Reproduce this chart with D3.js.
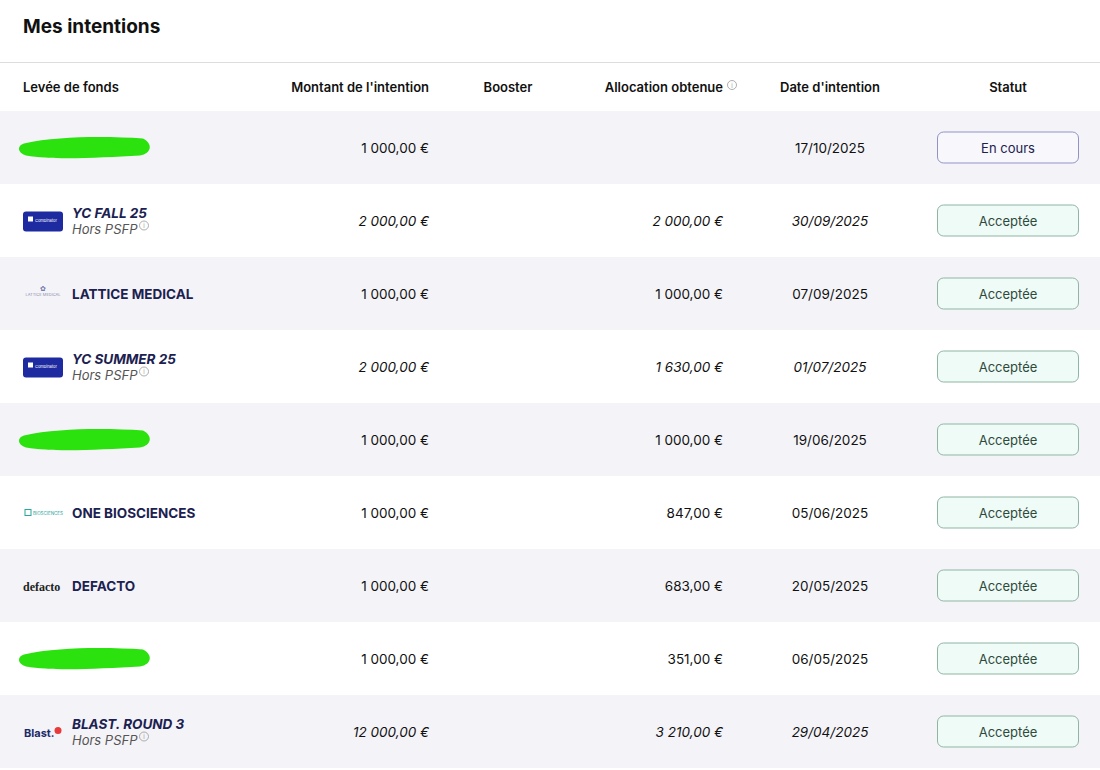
<!DOCTYPE html>
<html><head><meta charset="utf-8">
<script src="https://cdn.jsdelivr.net/npm/d3@7"></script>
<style>body{margin:0;background:#fff;font-family:Inter,"Noto Sans",sans-serif}</style>
</head><body><svg id="c" width="1100" height="770"></svg>
<script>
const names=["","YC FALL 25","LATTICE MEDICAL","YC SUMMER 25","","ONE BIOSCIENCES","DEFACTO","","BLAST. ROUND 3"];
const logos=["redact","yc","lattice","yc","redact","one","defacto","redact","blast"];
const horsPSFP=[false,true,false,true,false,false,false,false,true];
const montants=[1000,2000,1000,2000,1000,1000,1000,1000,12000];
const allocations=[null,2000,1000,1630,1000,847,683,351,3210];
const dates=["17/10/2025","30/09/2025","07/09/2025","01/07/2025","19/06/2025","05/06/2025","20/05/2025","06/05/2025","29/04/2025"];
const statuts=["En cours","Acceptée","Acceptée","Acceptée","Acceptée","Acceptée","Acceptée","Acceptée","Acceptée"];
const headers=["Levée de fonds","Montant de l'intention","Booster","Allocation obtenue","Date d'intention","Statut"];

const svg=d3.select("#c");
const navy="#1b2150";
const fmt=v=>{const s=v.toFixed(2).split(".");return s[0].replace(/\B(?=(\d{3})+(?!\d))/g,"\u00A0")+","+s[1]+" €";};
const y=d3.scaleBand().domain(d3.range(names.length)).range([111,111+73*names.length]);

svg.append("text").attr("x",23).attr("y",33).attr("font-size",19).attr("font-weight",700).attr("fill","#111").text("Mes intentions");
svg.append("line").attr("x1",0).attr("x2",1100).attr("y1",62.5).attr("y2",62.5).attr("stroke","#ddd");
const hx=[[23,"start"],[429,"end"],[508,"middle"],[723,"end"],[830,"middle"],[1008,"middle"]];
headers.forEach((h,i)=>svg.append("text").attr("x",hx[i][0]).attr("y",92).attr("text-anchor",hx[i][1]).attr("font-size",13).attr("font-weight",600).attr("fill","#111").text(h));
svg.append("circle").attr("cx",732).attr("cy",85).attr("r",4.5).attr("fill","none").attr("stroke","#999").attr("stroke-width",0.8);
svg.append("text").attr("x",732).attr("y",88).attr("text-anchor","middle").attr("font-size",6).attr("fill","#999").text("i");

const g=svg.selectAll("g.row").data(names).join("g").attr("class","row").attr("transform",(d,i)=>`translate(0,${y(i)})`);
g.append("rect").attr("width",1100).attr("height",y.bandwidth()).attr("fill",(d,i)=>i%2?"#fff":"#f4f4f8");
const mid=y.bandwidth()/2;
g.each(function(d,i){
  const r=d3.select(this), it=horsPSFP[i], ty=it?mid-3:mid+5;
  const L=logos[i];
  if(L==="redact"){
    r.append("path").attr("d",`M24,${mid-4} C60,${mid-12} 110,${mid-11} 143,${mid-9} C153,${mid-4} 152,${mid+6} 140,${mid+8} C100,${mid+10} 55,${mid+13} 26,${mid+8} C17,${mid+5} 17,${mid-2} 24,${mid-4}Z`).attr("fill","#2be20f");
  } else if(L==="yc"){
    r.append("rect").attr("x",23).attr("y",mid-9).attr("width",40).attr("height",20).attr("rx",3).attr("fill","#1d2aa0");
    r.append("rect").attr("x",28).attr("y",mid-4).attr("width",5).attr("height",5).attr("fill","#fff");
    r.append("text").attr("x",35).attr("y",mid+1).attr("font-size",4).attr("fill","#fff").text("Combinator");
  } else if(L==="lattice"){
    r.append("text").attr("x",43).attr("y",mid+2).attr("text-anchor","middle").attr("font-size",4).attr("fill","#8a8fb0").text("LATTICE MEDICAL");
    r.append("text").attr("x",43).attr("y",mid-3).attr("text-anchor","middle").attr("font-size",7).attr("fill","#6d74a8").text("✿");
  } else if(L==="one"){
    r.append("rect").attr("x",25).attr("y",mid-3).attr("width",6).attr("height",6).attr("fill","none").attr("stroke","#2aa6a0");
    r.append("text").attr("x",33).attr("y",mid+2).attr("font-size",4.5).attr("fill","#2aa6a0").text("BIOSCIENCES");
  } else if(L==="defacto"){
    r.append("text").attr("x",23).attr("y",mid+5).attr("font-family","Liberation Serif,serif").attr("font-weight",700).attr("font-size",12).attr("fill","#222").text("defacto");
  } else if(L==="blast"){
    r.append("text").attr("x",24).attr("y",mid+5).attr("font-size",11).attr("font-weight",700).attr("fill","#1b2a6b").text("Blast.");
    r.append("circle").attr("cx",58).attr("cy",mid-1).attr("r",3.5).attr("fill","#e83a3a");
  }
  if(d){
    r.append("text").attr("x",72).attr("y",ty).attr("font-size",13.5).attr("font-weight",700).attr("font-style",it?"italic":"normal").attr("fill",navy).text(d);
  }
  if(it){
    r.append("text").attr("x",72).attr("y",mid+13).attr("font-size",13).attr("font-style","italic").attr("fill","#555").text("Hors PSFP");
    r.append("circle").attr("cx",144).attr("cy",mid+5).attr("r",4.5).attr("fill","none").attr("stroke","#999").attr("stroke-width",0.8);
    r.append("text").attr("x",144).attr("y",mid+7.5).attr("text-anchor","middle").attr("font-size",6).attr("fill","#999").text("i");
  }
  const fs=it?"italic":"normal";
  r.append("text").attr("x",429).attr("y",mid+5).attr("text-anchor","end").attr("font-size",13.5).attr("font-style",fs).attr("fill","#111").text(fmt(montants[i]));
  if(allocations[i]!=null) r.append("text").attr("x",723).attr("y",mid+5).attr("text-anchor","end").attr("font-size",13.5).attr("font-style",fs).attr("fill","#111").text(fmt(allocations[i]));
  r.append("text").attr("x",830).attr("y",mid+5).attr("text-anchor","middle").attr("font-size",13.5).attr("font-style",fs).attr("fill","#111").text(dates[i]);
  const ok=statuts[i]!=="En cours";
  r.append("rect").attr("x",937.5).attr("y",mid-15.5).attr("width",141).attr("height",31).attr("rx",6).attr("fill",ok?"#eefbf6":"#f7f7fc").attr("stroke",ok?"#8fb5a3":"#8f93c8");
  r.append("text").attr("x",1008).attr("y",mid+5).attr("text-anchor","middle").attr("font-size",13).attr("fill",ok?"#2e4a3c":navy).text(statuts[i]);
});
</script></body></html>
